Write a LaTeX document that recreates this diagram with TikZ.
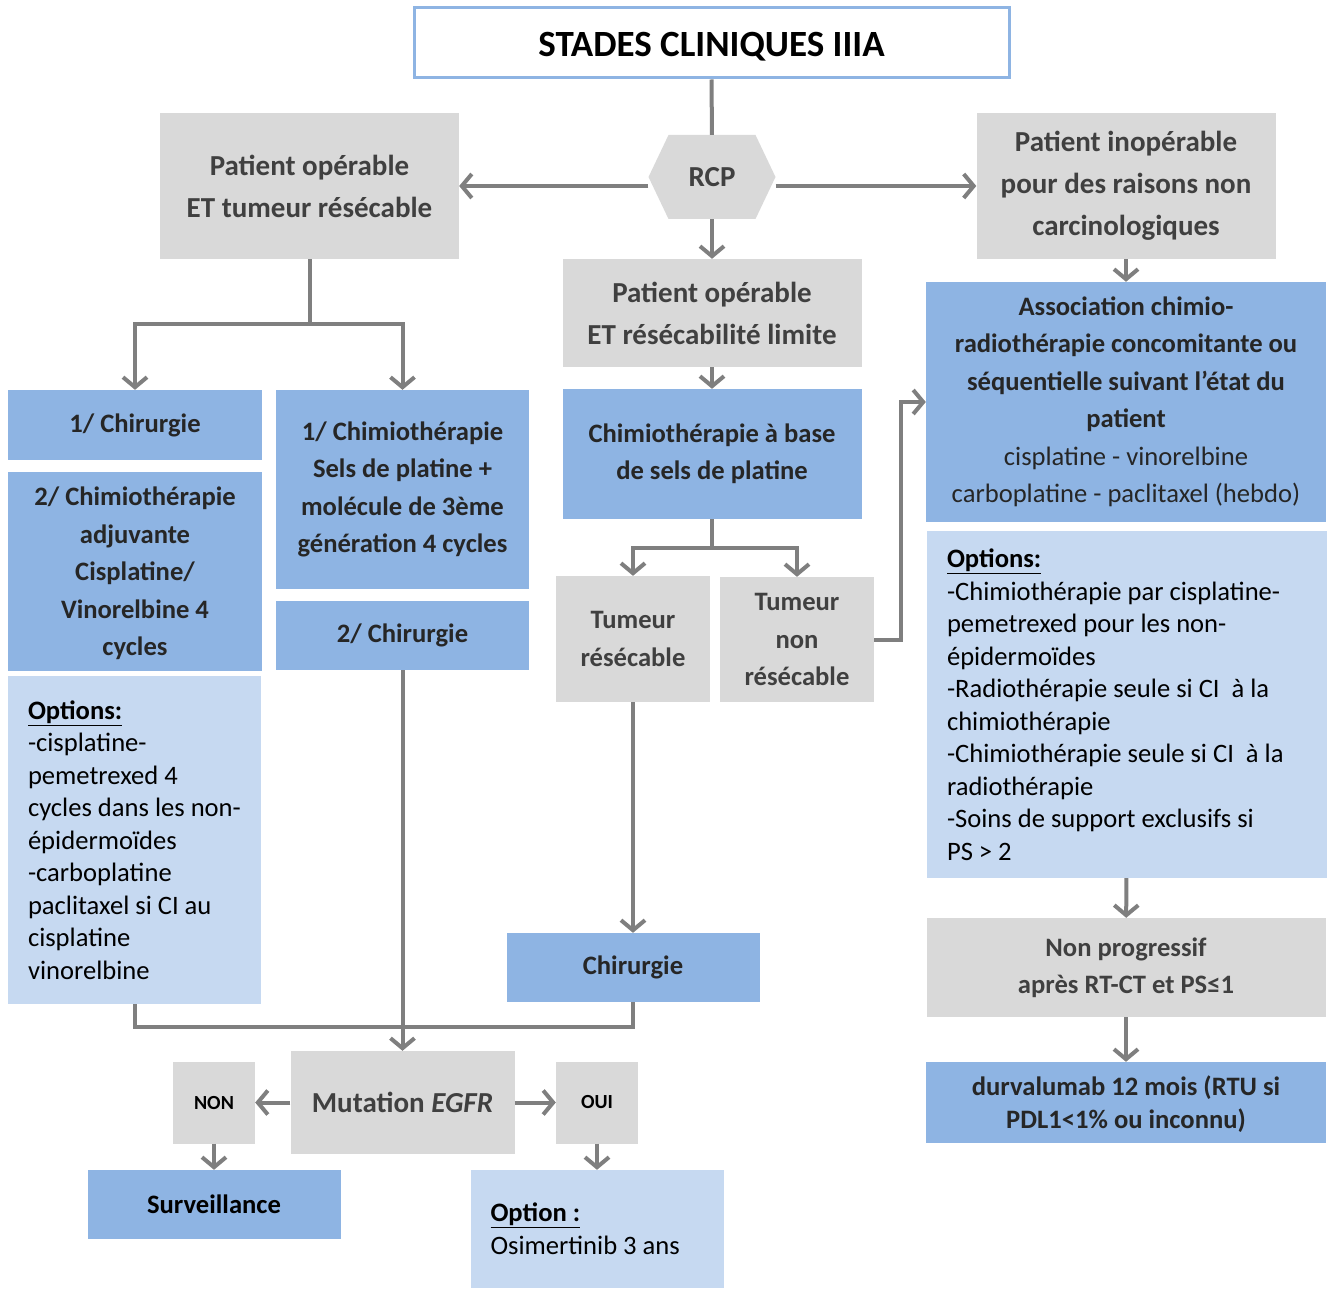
\documentclass[tikz,border=0pt]{standalone}
\usepackage{fontspec}
\setmainfont{Carlito}
\usetikzlibrary{arrows.meta}
\definecolor{boxgray}{RGB}{217,217,217}
\definecolor{boxblue}{RGB}{142,180,227}
\definecolor{boxlight}{RGB}{198,217,241}
\definecolor{flowgray}{RGB}{127,127,127}
\definecolor{txtgray}{RGB}{64,64,64}
\definecolor{txtdark}{RGB}{38,38,38}

\tikzset{
	box/.style={rectangle, inner sep=0pt, align=center},
	sz/.style 2 args={minimum width=#1, minimum height=#2},
	graybig/.style={box, fill=boxgray, text=txtgray, font=\fontsize{29}{42}\selectfont\bfseries},
	graysmall/.style={box, fill=boxgray, text=txtgray, font=\fontsize{26.6}{37.5}\selectfont\bfseries},
	bluebox/.style={box, fill=boxblue, text=txtdark, font=\fontsize{26.6}{37.5}\selectfont\bfseries},
	optbox/.style={rectangle, fill=boxlight, inner xsep=20pt, inner ysep=0pt, align=left, text=black,
		font=\fontsize{26.6}{32.5}\selectfont, execute at begin node={\spaceskip=6pt minus 1pt\relax}},
	flow/.style={draw=flowgray, line width=4pt},
	arr/.style={flow, -{Straight Barb[length=10pt,width=24pt]}},
}

\begin{document}
\begin{tikzpicture}[x=1pt, y=-1pt]
	\useasboundingbox (0,0) rectangle (1332,1289);
	% top
	\node[box, draw=boxblue, line width=3pt, fill=white, sz={595pt}{70pt}, text height=28pt, text depth=0pt, font=\fontsize{37}{44}\selectfont\bfseries] (title) at (711.5,43) {STADES CLINIQUES IIIA};
	\node[box, sz={127pt}{84pt}, text=txtgray, font=\fontsize{29}{35}\selectfont\bfseries,
		path picture={\fill[boxgray] ([xshift=20pt]path picture bounding box.north west) -- ([xshift=-20pt]path picture bounding box.north east) -- (path picture bounding box.east) -- ([xshift=-20pt]path picture bounding box.south east) -- ([xshift=20pt]path picture bounding box.south west) -- (path picture bounding box.west) -- cycle;}] (rcp) at (712,177) {RCP};
	\node[graybig, sz={299pt}{146pt}] (opleft) at (309.5,186) {Patient opérable\\ET tumeur résécable};
	\node[graybig, sz={299pt}{146pt}] (inop) at (1126,186) {Patient inopérable\\pour des raisons non\\carcinologiques};
	\node[graybig, sz={299pt}{108pt}] (oplim) at (712,313) {Patient opérable\\ET résécabilité limite};

	% left column
	\node[bluebox, sz={254pt}{70pt}] (chir1) at (135,425) {1/ Chirurgie};
	\node[bluebox, sz={254pt}{199pt}, text depth=0pt] (chimadj) at (135,571.5) {2/ Chimiothérapie\\adjuvante\\Cisplatine/\\Vinorelbine 4\\cycles};
	\node[optbox, text width=213pt, minimum height=328pt] (opts1) at (134.5,840) {\textbf{\underline{Options:}}\\-cisplatine-\\pemetrexed 4\\cycles dans les non-\\épidermoïdes\\-carboplatine\\paclitaxel si CI au\\cisplatine\\vinorelbine};
	\node[bluebox, sz={253pt}{199pt}] (chimneo) at (402.5,489.5) {1/ Chimiothérapie\\Sels de platine +\\molécule de 3ème\\génération 4 cycles};
	\node[bluebox, sz={253pt}{69pt}] (chir2) at (402.5,635.5) {2/ Chirurgie};

	% middle column
	\node[bluebox, sz={299pt}{130pt}] (chimbase) at (712,454) {Chimiothérapie à base\\de sels de platine};
	\node[graysmall, sz={154pt}{126pt}] (tres) at (633,639) {Tumeur\\résécable};
	\node[graysmall, sz={154pt}{125pt}] (tnr) at (797,639.5) {Tumeur\\non\\résécable};
	\node[bluebox, sz={253pt}{69pt}] (chirC) at (633,967.5) {Chirurgie};

	% bottom
	\node[box, fill=boxgray, text=txtgray, sz={224pt}{103pt}, font=\fontsize{29}{35}\selectfont\bfseries] (mut) at (402.5,1102.5) {Mutation \textit{EGFR}};
	\node[box, fill=boxgray, sz={82pt}{82pt}, font=\fontsize{20}{24}\selectfont\bfseries] (non) at (214,1102.5) {NON};
	\node[box, fill=boxgray, sz={82pt}{82pt}, font=\fontsize{20}{24}\selectfont\bfseries] (oui) at (597,1102.5) {OUI};
	\node[bluebox, text=black, sz={253pt}{69pt}] (surv) at (214,1204.5) {Surveillance};
	\node[optbox, text width=213pt, minimum height=118pt, font=\fontsize{26.6}{33}\selectfont] (optosi) at (597,1229) {\textbf{\underline{Option :}}\\Osimertinib 3 ans};

	% right column
	\node[bluebox, sz={400pt}{240pt}] (assoc) at (1126,402) {Association chimio-\\radiothérapie concomitante ou\\séquentielle suivant l’état du\\patient\\\textmd{cisplatine - vinorelbine}\\\textmd{carboplatine - paclitaxel (hebdo)}};
	\node[optbox, text width=360pt, minimum height=347pt] (opts2) at (1127,704.5) {\textbf{\underline{Options:}}\\-Chimiothérapie par cisplatine-\\pemetrexed pour les non-\\épidermoïdes\\-Radiothérapie seule si CI \ à la\\chimiothérapie\\-Chimiothérapie seule si CI \ à la\\radiothérapie\\-Soins de support exclusifs si\\PS > 2};
	\node[graysmall, sz={399pt}{99pt}] (nonprog) at (1126,967.5) {Non progressif\\après RT-CT et PS≤1};
	\node[bluebox, sz={400pt}{81pt}, text depth=0pt, font=\fontsize{26.6}{33}\selectfont\bfseries] (durva) at (1126,1102.5) {durvalumab 12 mois (RTU si\\PDL1<1\% ou inconnu)};

	% connectors
	\draw[flow] (title) -- (rcp);
	\draw[arr] (rcp.west |- opleft.east) -- (opleft.east);
	\draw[arr] (rcp.east |- inop.west) -- (inop.west);
	\draw[arr] (rcp) -- (oplim);

	\coordinate (busL) at ([yshift=-65pt]opleft.south);
	\draw[flow] (opleft.south) -- (busL);
	\draw[arr] (busL) -| (chir1.north);
	\draw[arr] (busL) -| (chimneo.north);

	\draw[arr] (oplim) -- (chimbase);
	\coordinate (busC) at ([yshift=-29pt]chimbase.south);
	\draw[flow] (chimbase.south) -- (busC);
	\draw[arr] (busC) -| (tres.north);
	\draw[arr] (busC) -| (tnr.north);
	\draw[arr] (tres) -- (chirC);
	\draw[arr] (tnr.east) -- ++(27,0) |- (assoc.west);

	\coordinate (busB) at (402.5,1027);
	\draw[flow] (opts1.south) |- (busB) -| (chirC.south);
	\draw[arr] (chir2) -- (mut);
	\draw[arr] (mut) -- (non);
	\draw[arr] (mut) -- (oui);
	\draw[arr] (non) -- (surv);
	\draw[arr] (oui) -- (optosi);

	\draw[arr] (inop) -- (assoc);
	\draw[arr] (opts2) -- (nonprog);
	\draw[arr] (nonprog) -- (durva);
\end{tikzpicture}
\end{document}
